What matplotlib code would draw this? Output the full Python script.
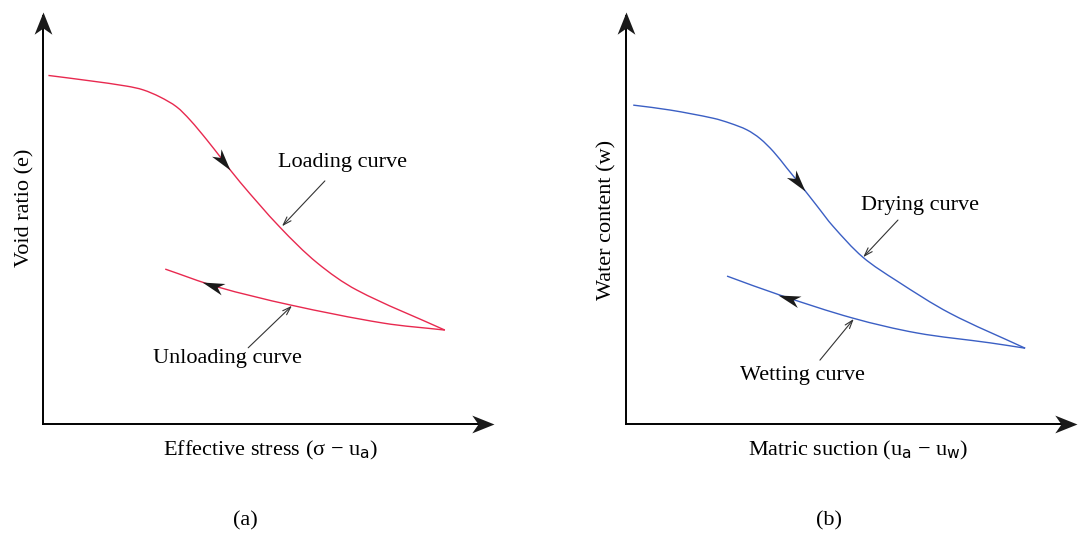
import numpy as np
import matplotlib
matplotlib.use("Agg")
import matplotlib.pyplot as plt
from matplotlib.path import Path
from matplotlib.patches import PathPatch
from matplotlib.markers import MarkerStyle
from matplotlib.transforms import Affine2D

plt.rcParams['font.family'] = ['Liberation Serif', 'DejaVu Serif']
plt.rcParams['mathtext.fontset'] = 'custom'
plt.rcParams['mathtext.rm'] = 'DejaVu Sans'

# (a) void ratio vs effective stress, arbitrary units 0-100
load_x = [1.2, 10.4, 18.6, 22.2, 25.9, 29.6, 32.6, 36.3, 39.6, 43.7, 52.5, 60.8, 69.6, 89.1]
load_y = [84.6, 83.3, 82.0, 81.1, 79.4, 77.0, 73.8, 69.0, 64.4, 58.7, 47.8, 39.1, 32.5, 22.8]
unload_x = [27.1, 38.6, 54.8, 75.4, 89.1]
unload_y = [37.6, 33.3, 28.9, 24.5, 22.8]

# (b) water content vs matric suction
dry_x = [1.6, 9.8, 19.4, 23.1, 26.8, 29.7, 32.7, 35.6, 39.0, 42.3, 45.9, 52.5, 60.1, 71.8, 88.5]
dry_y = [77.4, 76.2, 74.2, 73.0, 71.4, 69.3, 66.1, 62.2, 57.6, 53.0, 48.0, 40.5, 34.7, 26.9, 18.4]
wet_x = [22.4, 34.1, 50.3, 64.5, 80.7, 88.5]
wet_y = [35.9, 31.3, 25.7, 22.1, 19.7, 18.4]

RED = '#e8294f'
BLUE = '#3b5fc4'
FS = 16

fig = plt.figure(figsize=(10.78, 5.35), dpi=100)


def smooth_curve(ax, xs, ys, color):
    # cubic bezier through the read points, tangents scaled by chord length
    p = np.column_stack([xs, ys])
    d = np.hypot(*np.diff(p, axis=0).T)
    n = len(p)
    t = np.zeros_like(p)
    for i in range(n):
        if i == 0:
            t[i] = (p[1] - p[0]) / d[0]
        elif i == n - 1:
            t[i] = (p[-1] - p[-2]) / d[-1]
        else:
            t[i] = (p[i + 1] - p[i - 1]) / (d[i - 1] + d[i])
    verts = [tuple(p[0])]
    codes = [Path.MOVETO]
    for i in range(n - 1):
        verts += [tuple(p[i] + t[i] * d[i] / 3), tuple(p[i + 1] - t[i + 1] * d[i] / 3),
                  tuple(p[i + 1])]
        codes += [Path.CURVE4] * 3
    ax.add_patch(PathPatch(Path(verts, codes), fc='none', ec=color, lw=1.0,
                           clip_on=False))


def stealth(angle, notch=0.72, half=0.4):
    verts = [(0, 0), (-1, half), (-notch, 0), (-1, -half), (0, 0)]
    codes = [Path.MOVETO, Path.LINETO, Path.LINETO, Path.LINETO, Path.CLOSEPOLY]
    return MarkerStyle(Path(verts, codes), transform=Affine2D().rotate_deg(angle))


def head_on_curve(ax, xs, ys, xt, forward, ms):
    # arrowhead with tip at x=xt, aligned with the curve
    order = np.argsort(xs)
    xs = np.asarray(xs)[order]
    ys = np.asarray(ys)[order]
    yt = np.interp(xt, xs, ys)
    x2 = xt - 2.5 if forward else xt + 2.5
    y2 = np.interp(x2, xs, ys)
    p1 = ax.transData.transform((x2, y2))
    p2 = ax.transData.transform((xt, yt))
    ang = np.degrees(np.arctan2(p2[1] - p1[1], p2[0] - p1[0]))
    ax.plot(xt, yt, marker=stealth(ang, notch=0.72, half=0.27), ms=ms,
            color='#1a1a1a', mec='none', clip_on=False, zorder=5)


def frame(ax):
    ax.set_xlim(0, 100)
    ax.set_ylim(0, 100)
    ax.axis('off')
    ax.plot([0, 99], [0, 0], color='black', lw=1.4, clip_on=False)
    ax.plot([0, 0], [0, 99], color='black', lw=1.4, clip_on=False)
    ax.plot(100, 0, marker=stealth(0), ms=32, color='#1a1a1a', mec='none', clip_on=False)
    ax.plot(0, 100, marker=stealth(90), ms=32, color='#1a1a1a', mec='none', clip_on=False)


def pointer(ax, text_xy, tip_xy):
    ax.annotate('', xy=tip_xy, xytext=text_xy,
                arrowprops=dict(arrowstyle='->,head_length=0.6,head_width=0.2',
                                color='#333333', lw=0.8, shrinkA=0, shrinkB=0))


axa = fig.add_axes([43 / 1078, 111 / 535, 451 / 1078, 412 / 535])
frame(axa)
smooth_curve(axa, load_x, load_y, RED)
smooth_curve(axa, unload_x, unload_y, RED)
head_on_curve(axa, load_x, load_y, 41.5, True, 32)
head_on_curve(axa, unload_x, unload_y, 35.3, False, 32)
axa.text(52.0, 63.5, 'Loading curve', fontsize=FS, ha='left', va='center')
pointer(axa, (62.5, 59.0), (53.0, 48.0))
axa.text(24.5, 15.9, 'Unloading curve', fontsize=FS, ha='left', va='center')
pointer(axa, (45.5, 18.5), (55.2, 28.7))
axa.text(-4.0, 52.5, 'Void ratio (e)', fontsize=FS, rotation=90, ha='center', va='center')
axa.text(50.5, -6.5, 'Effective stress (σ − u$_{\\mathrm{a}}$)', fontsize=FS,
         ha='center', va='center')
axa.text(44.8, -23.5, '(a)', fontsize=FS, ha='center', va='center')

axb = fig.add_axes([626 / 1078, 111 / 535, 451 / 1078, 412 / 535])
frame(axb)
smooth_curve(axb, dry_x, dry_y, BLUE)
smooth_curve(axb, wet_x, wet_y, BLUE)
head_on_curve(axb, dry_x, dry_y, 39.7, True, 32)
head_on_curve(axb, wet_x, wet_y, 33.8, False, 32)
axb.text(52.0, 53.0, 'Drying curve', fontsize=FS, ha='left', va='center')
pointer(axb, (60.3, 49.5), (52.6, 40.5))
axb.text(25.3, 11.7, 'Wetting curve', fontsize=FS, ha='left', va='center')
pointer(axb, (43.0, 15.5), (50.5, 25.5))
axb.text(-4.2, 49.5, 'Water content (w)', fontsize=FS, rotation=90, ha='center', va='center')
axb.text(51.5, -6.5, 'Matric suction (u$_{\\mathrm{a}}$ − u$_{\\mathrm{w}}$)',
         fontsize=FS, ha='center', va='center')
axb.text(45.0, -23.5, '(b)', fontsize=FS, ha='center', va='center')

fig.savefig('out.png', dpi=100)
